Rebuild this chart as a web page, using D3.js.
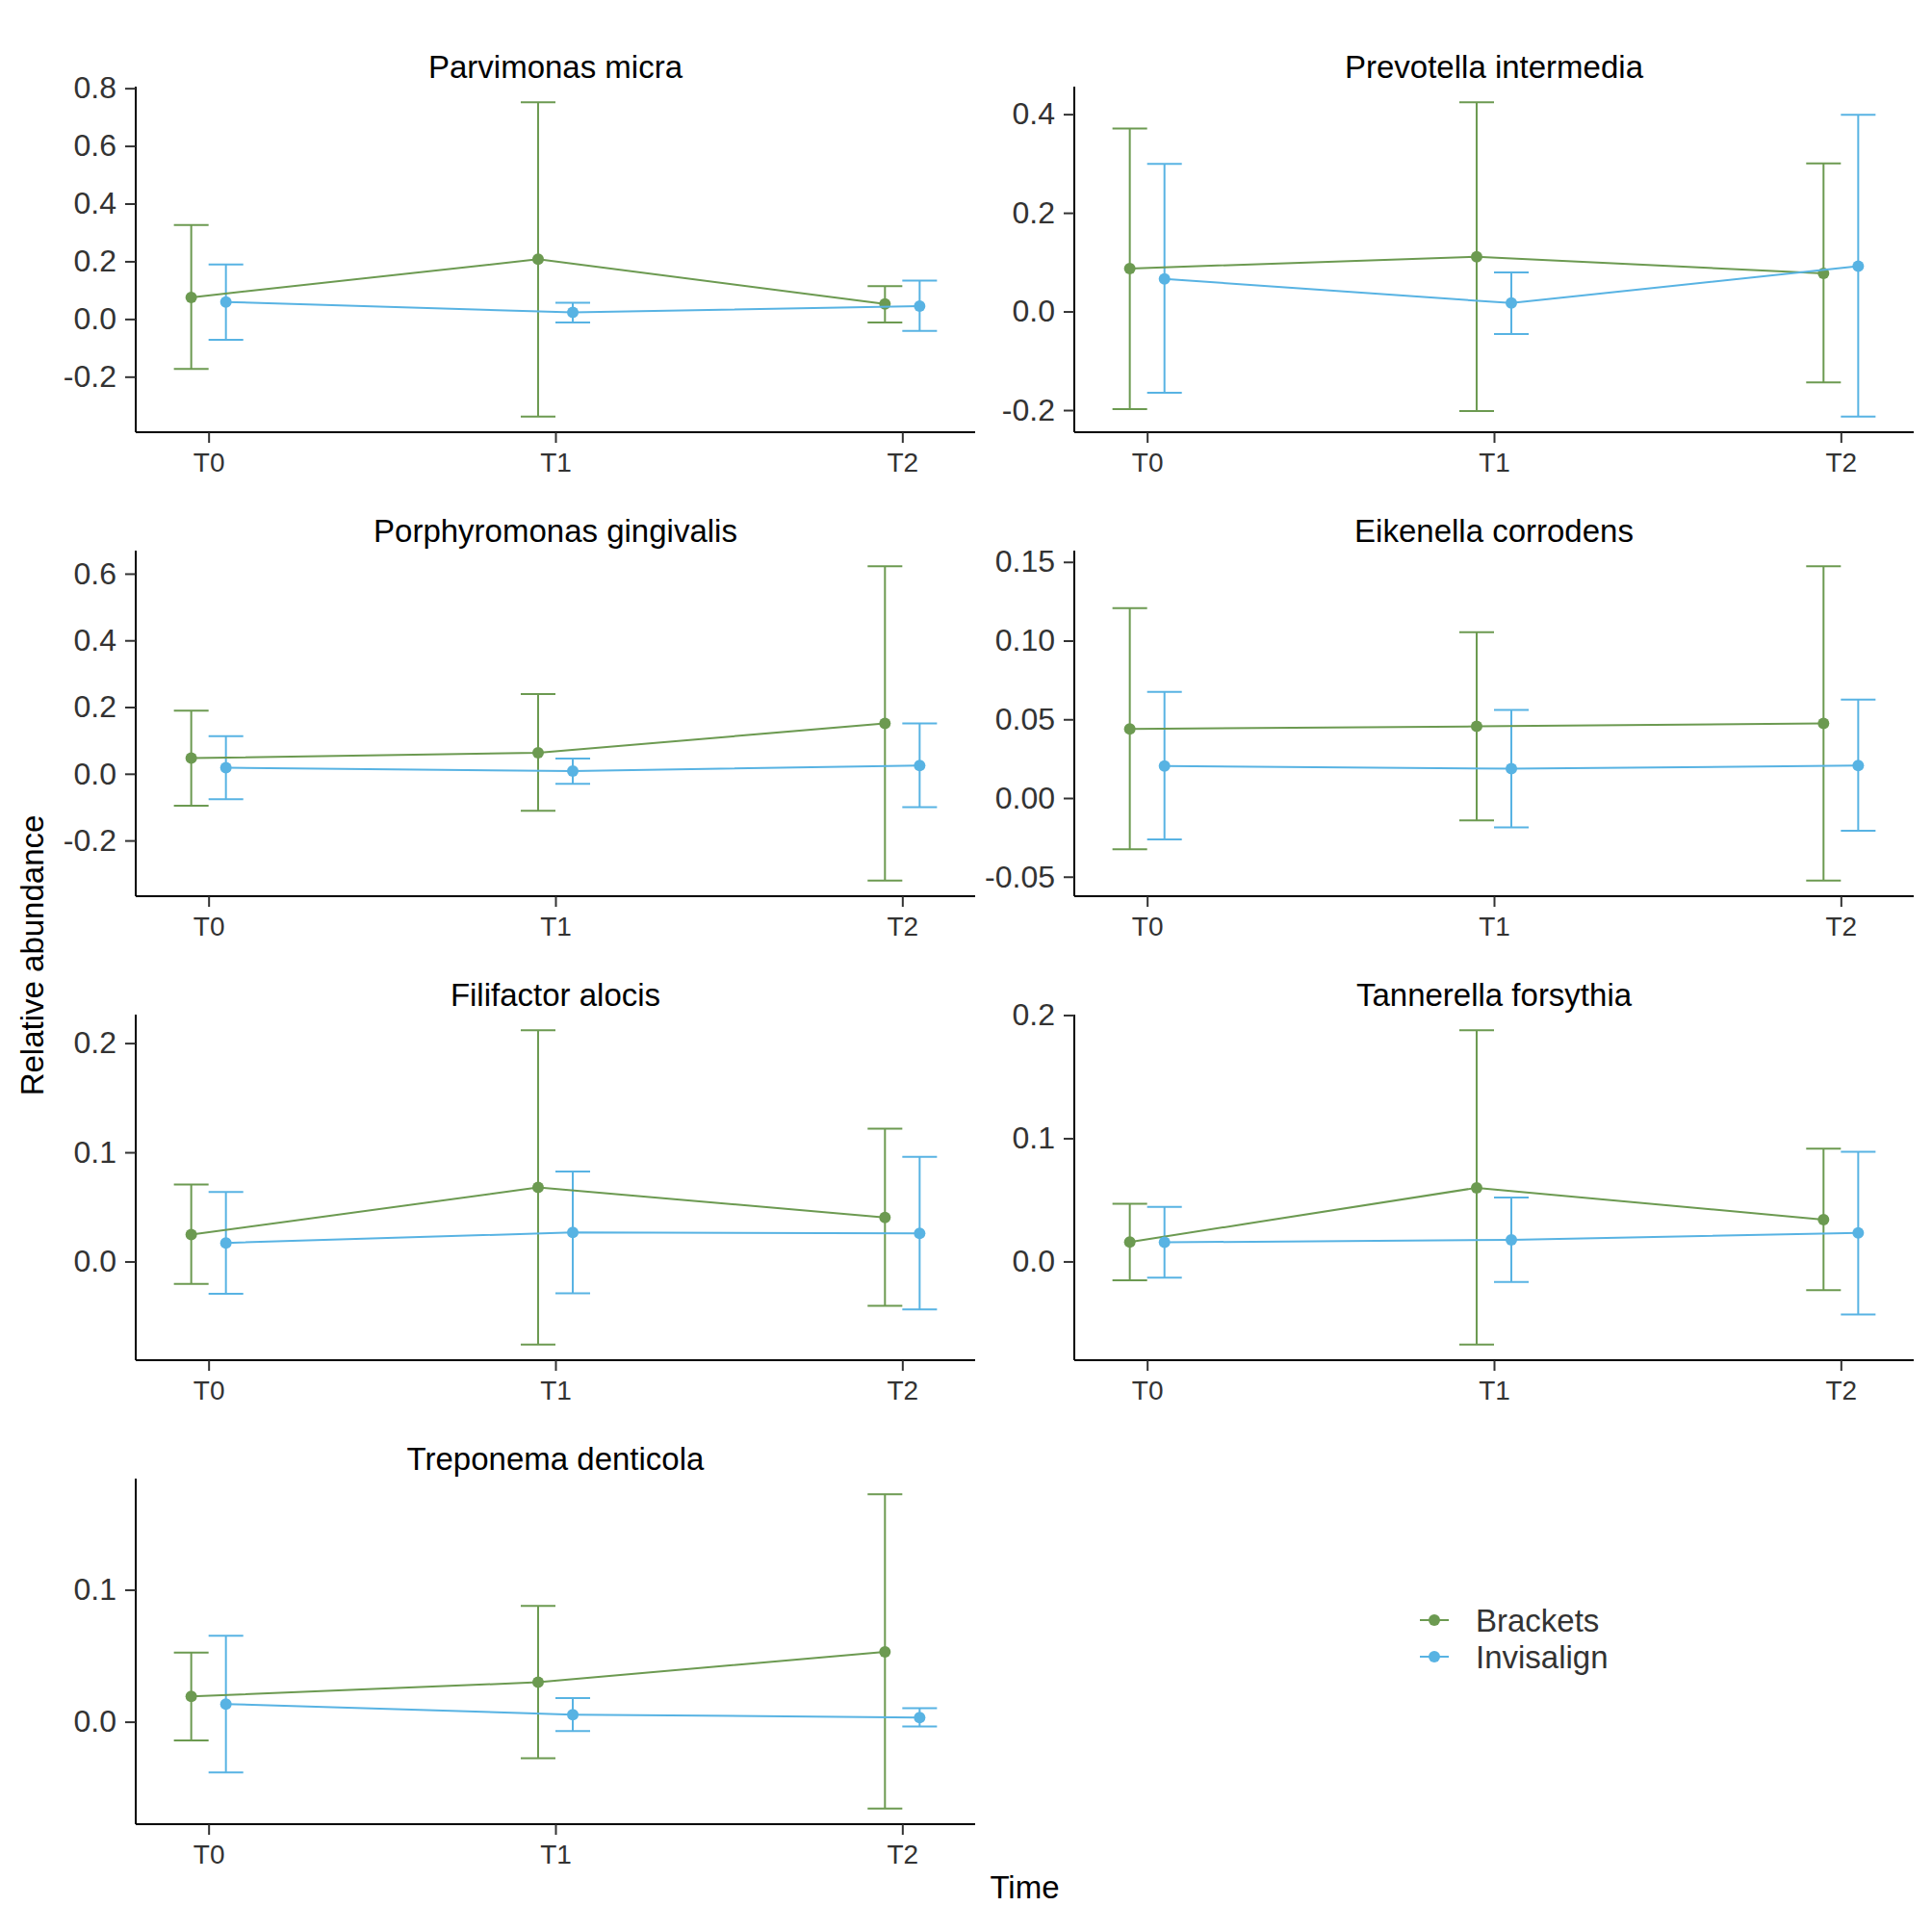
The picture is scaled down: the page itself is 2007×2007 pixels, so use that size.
<!DOCTYPE html>
<html>
<head>
<meta charset="utf-8">
<script src="https://cdn.jsdelivr.net/npm/d3@7"></script>
<style>
  body { margin: 0; background: #fff; }
  svg { display: block; font-family: "Liberation Sans", Arial, sans-serif; }
</style>
</head>
<body>
<div id="chart"></div>
<script>
// values
const species = [
  'Parvimonas micra', 'Prevotella intermedia',
  'Porphyromonas gingivalis', 'Eikenella corrodens',
  'Filifactor alocis', 'Tannerella forsythia',
  'Treponema denticola'
];
const timepoints = ['T0', 'T1', 'T2'];
const groups = ['Brackets', 'Invisalign'];

const bracketsMean = [
  [0.075, 0.207, 0.052],
  [0.087, 0.111, 0.077],
  [0.047, 0.063, 0.151],
  [0.0439, 0.0455, 0.0474],
  [0.0246, 0.0678, 0.0404],
  [0.0158, 0.0598, 0.0339],
  [0.0192, 0.0299, 0.053]
];
const bracketsLow = [
  [-0.173, -0.338, -0.012],
  [-0.198, -0.202, -0.144],
  [-0.096, -0.111, -0.320],
  [-0.0326, -0.0142, -0.0524],
  [-0.0205, -0.076, -0.0406],
  [-0.0153, -0.0674, -0.0233],
  [-0.0141, -0.0277, -0.0657]
];
const bracketsHigh = [
  [0.326, 0.751, 0.114],
  [0.371, 0.424, 0.300],
  [0.189, 0.239, 0.622],
  [0.1206, 0.1053, 0.1472],
  [0.0705, 0.2117, 0.1216],
  [0.0469, 0.1876, 0.0915],
  [0.0523, 0.0878, 0.1723]
];
const invisalignMean = [
  [0.059, 0.023, 0.045],
  [0.066, 0.017, 0.092],
  [0.018, 0.008, 0.025],
  [0.0204, 0.0186, 0.0206],
  [0.0170, 0.0266, 0.0257],
  [0.0155, 0.0176, 0.0231],
  [0.0134, 0.0054, 0.0032]
];
const invisalignLow = [
  [-0.072, -0.012, -0.041],
  [-0.165, -0.046, -0.213],
  [-0.076, -0.030, -0.100],
  [-0.0263, -0.0186, -0.0208],
  [-0.0295, -0.0292, -0.0439],
  [-0.0132, -0.0166, -0.043],
  [-0.0384, -0.0071, -0.0036]
];
const invisalignHigh = [
  [0.189, 0.056, 0.133],
  [0.299, 0.079, 0.399],
  [0.113, 0.046, 0.151],
  [0.0674, 0.0559, 0.0626],
  [0.0637, 0.0825, 0.0959],
  [0.0443, 0.0518, 0.0891],
  [0.0652, 0.018, 0.0102]
];
const yTicks = [
  [-0.2, 0, 0.2, 0.4, 0.6, 0.8],
  [-0.2, 0, 0.2, 0.4],
  [-0.2, 0, 0.2, 0.4, 0.6],
  [-0.05, 0, 0.05, 0.10, 0.15],
  [0, 0.1, 0.2],
  [0, 0.1, 0.2],
  [0, 0.1]
];
const yTickDigits = [1, 1, 1, 2, 1, 1, 1];

const colors = { Brackets: '#6c9a51', Invisalign: '#58b3e3' };

// layout
const W = 2007, H = 2007;
const colX = [141, 1116];
const rowY = [90, 572, 1054, 1536];
const pw = 872, ph = 359;
const dodge = 0.1, capHalf = 0.05;

const svg = d3.select('#chart').append('svg')
  .attr('width', W).attr('height', H);

function seriesFor(i) {
  return [
    { group: 'Brackets', mean: bracketsMean[i], low: bracketsLow[i], high: bracketsHigh[i] },
    { group: 'Invisalign', mean: invisalignMean[i], low: invisalignLow[i], high: invisalignHigh[i] }
  ];
}

species.forEach((name, i) => {
  const px = colX[i % 2], py = rowY[Math.floor(i / 2)];
  const g = svg.append('g').attr('transform', `translate(${px},${py})`);
  const series = seriesFor(i);

  // x: continuous index, range expanded 5% like ggplot
  const xlo = -dodge / 2 - capHalf, xhi = timepoints.length - 1 + dodge / 2 + capHalf;
  const xpad = (xhi - xlo) * 0.05;
  const x = d3.scaleLinear().domain([xlo - xpad, xhi + xpad]).range([0, pw]);

  const lows = series.flatMap(s => s.low), highs = series.flatMap(s => s.high);
  const ylo = d3.min(lows), yhi = d3.max(highs);
  const ypad = (yhi - ylo) * 0.05;
  const y = d3.scaleLinear().domain([ylo - ypad, yhi + ypad]).range([ph, 0]);

  const off = s => (groups.indexOf(s.group) - 0.5) * dodge;

  // error bars
  series.forEach(s => {
    const eg = g.append('g').attr('stroke', colors[s.group]).attr('stroke-width', 2).attr('fill', 'none');
    timepoints.forEach((t, j) => {
      const cx = j + off(s);
      eg.append('line').attr('x1', x(cx)).attr('x2', x(cx)).attr('y1', y(s.low[j])).attr('y2', y(s.high[j]));
      eg.append('line').attr('x1', x(cx - capHalf)).attr('x2', x(cx + capHalf)).attr('y1', y(s.low[j])).attr('y2', y(s.low[j]));
      eg.append('line').attr('x1', x(cx - capHalf)).attr('x2', x(cx + capHalf)).attr('y1', y(s.high[j])).attr('y2', y(s.high[j]));
    });
  });

  // lines + points
  series.forEach(s => {
    const line = d3.line().x((d, j) => x(j + off(s))).y(d => y(d));
    g.append('path').datum(s.mean)
      .attr('d', line).attr('fill', 'none')
      .attr('stroke', colors[s.group]).attr('stroke-width', 2);
    g.selectAll(null).data(s.mean).enter().append('circle')
      .attr('cx', (d, j) => x(j + off(s)))
      .attr('cy', d => y(d))
      .attr('r', 6)
      .attr('fill', colors[s.group]);
  });

  // axes (ggplot prints a plain hyphen for negatives)
  const f = d3.format('.' + yTickDigits[i] + 'f');
  const fmt = v => f(v).replace('\u2212', '-');
  const yAxis = g.append('g').call(d3.axisLeft(y).tickValues(yTicks[i]).tickFormat(fmt).tickSize(11).tickPadding(9));
  const xAxis = g.append('g').attr('transform', `translate(0,${ph})`)
    .call(d3.axisBottom(x).tickValues(timepoints.map((t, j) => j)).tickFormat(j => timepoints[j]).tickSize(11).tickPadding(10));

  [yAxis, xAxis].forEach(a => {
    a.select('.domain').attr('stroke', '#000').attr('stroke-width', 2);
    a.selectAll('.tick line').attr('stroke', '#333').attr('stroke-width', 2);
    a.selectAll('.tick text').attr('fill', '#333');
  });
  yAxis.selectAll('.tick text').attr('font-size', 32);
  xAxis.selectAll('.tick text').attr('font-size', 28);
  // keep axis lines spanning the full panel
  yAxis.select('.domain').attr('d', `M0,${ph}V0`);
  xAxis.select('.domain').attr('d', `M0,0H${pw}`);

  g.append('text')
    .attr('x', pw / 2).attr('y', -9)
    .attr('text-anchor', 'middle')
    .attr('font-size', 33)
    .attr('fill', '#000')
    .text(name);
});

// axis titles
svg.append('text')
  .attr('transform', `translate(45,${(rowY[0] + rowY[3] + ph) / 2}) rotate(-90)`)
  .attr('text-anchor', 'middle')
  .attr('font-size', 33)
  .attr('fill', '#000')
  .text('Relative abundance');

svg.append('text')
  .attr('x', (colX[0] + colX[1] + pw) / 2).attr('y', 1972)
  .attr('text-anchor', 'middle')
  .attr('font-size', 33)
  .attr('fill', '#000')
  .text('Time');

// legend
const legend = svg.append('g').attr('transform', 'translate(1475,1683)');
groups.forEach((grp, k) => {
  const row = legend.append('g').attr('transform', `translate(0,${k * 38})`);
  row.append('line').attr('x1', 0).attr('x2', 30).attr('y1', 0).attr('y2', 0)
    .attr('stroke', colors[grp]).attr('stroke-width', 2);
  row.append('circle').attr('cx', 15).attr('cy', 0).attr('r', 6).attr('fill', colors[grp]);
  row.append('text').attr('x', 58).attr('y', 0).attr('dy', '0.36em')
    .attr('font-size', 33).attr('fill', '#333').text(grp);
});
</script>
</body>
</html>
